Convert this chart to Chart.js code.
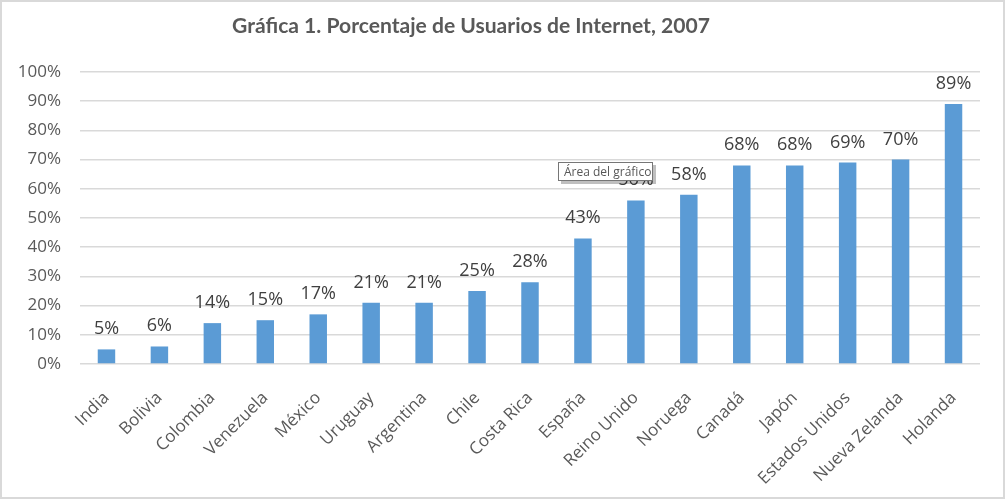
<!DOCTYPE html>
<html><head><meta charset="utf-8">
<script src="https://cdn.jsdelivr.net/npm/chart.js@4.4.1/dist/chart.umd.min.js"></script>
<style>html,body{margin:0;padding:0;background:#fff}#wrap{width:1005px;height:500px;position:relative}</style>
</head><body><div id="wrap"><canvas id="c" width="1005" height="500"></canvas></div>
<script>
const categories = ['India','Bolivia','Colombia','Venezuela','México','Uruguay','Argentina','Chile','Costa Rica','España','Reino Unido','Noruega','Canadá','Japón','Estados Unidos','Nueva Zelanda','Holanda'];
const values = [5,6,14,15,17,21,21,25,28,43,56,58,68,68,69,70,89];
const yTicks = [0,10,20,30,40,50,60,70,80,90,100];
const titleText = 'Gráfica 1. Porcentaje de Usuarios de Internet, 2007';
const tooltipText = 'Área del gráfico';

const FONT = "'Open Sans', 'Noto Sans', sans-serif";

const extras = {
  id: 'extras',
  afterDatasetsDraw(chart) {
    const ctx = chart.ctx;
    const meta = chart.getDatasetMeta(0);
    ctx.save();
    ctx.font = '18px ' + FONT;
    ctx.fillStyle = '#404040';
    ctx.textAlign = 'center';
    ctx.textBaseline = 'alphabetic';
    meta.data.forEach((bar, i) => {
      ctx.fillText(values[i] + '%', bar.x, bar.y - 15);
    });
    ctx.restore();
  },
  afterDraw(chart) {
    const ctx = chart.ctx;
    ctx.save();
    // title
    ctx.fillStyle = '#595959';
    ctx.textAlign = 'center';
    ctx.textBaseline = 'alphabetic';
    const tf = "Lato, 'Open Sans', sans-serif";
    ctx.font = 'bold 20px ' + tf;
    const w = ctx.measureText(titleText).width;
    const size = 20 * 478 / w;
    ctx.font = 'bold ' + size.toFixed(2) + 'px ' + tf;
    ctx.fillText(titleText, 471, 33);
    // tooltip overlay
    ctx.fillStyle = 'rgba(0,0,0,0.25)';
    ctx.fillRect(561, 165, 95, 19);
    ctx.fillStyle = '#ffffff';
    ctx.fillRect(558, 162, 95, 19);
    ctx.strokeStyle = '#767676';
    ctx.lineWidth = 1;
    ctx.strokeRect(558.5, 162.5, 94, 18);
    ctx.fillStyle = '#575757';
    ctx.textAlign = 'left';
    ctx.font = '12px ' + FONT;
    ctx.fillText(tooltipText, 564, 176);
    // outer border
    ctx.strokeStyle = '#d9d9d9';
    ctx.lineWidth = 2;
    ctx.strokeRect(1, 1, 1003, 497);
    ctx.restore();
  }
};

new Chart(document.getElementById('c'), {
  type: 'bar',
  data: {
    labels: categories,
    datasets: [{
      data: values,
      backgroundColor: '#5B9BD5',
      barPercentage: 0.33,
      categoryPercentage: 1
    }]
  },
  options: {
    responsive: false,
    animation: false,
    events: [],
    layout: { padding: { top: 72, right: 25, left: 0, bottom: 0 } },
    plugins: { legend: { display: false }, title: { display: false }, tooltip: { enabled: false } },
    scales: {
      x: {
        grid: { display: false, drawTicks: false },
        border: { display: false },
        ticks: {
          autoSkip: false, maxRotation: 45, minRotation: 45, padding: 24,
          color: '#595959', font: { family: FONT, size: 17 }
        },
        afterFit(scale) { scale.height = 136; }
      },
      y: {
        min: 0, max: 100,
        grid: { color: '#d9d9d9', lineWidth: 1.5, drawTicks: false },
        border: { display: false },
        afterBuildTicks(scale) { scale.ticks = yTicks.map(v => ({ value: v })); },
        ticks: {
          padding: 19, color: '#595959', font: { family: FONT, size: 17 },
          callback: v => v + '%'
        },
        afterFit(scale) { scale.width = 80; }
      }
    }
  },
  plugins: [extras]
});
</script>
</body></html>
